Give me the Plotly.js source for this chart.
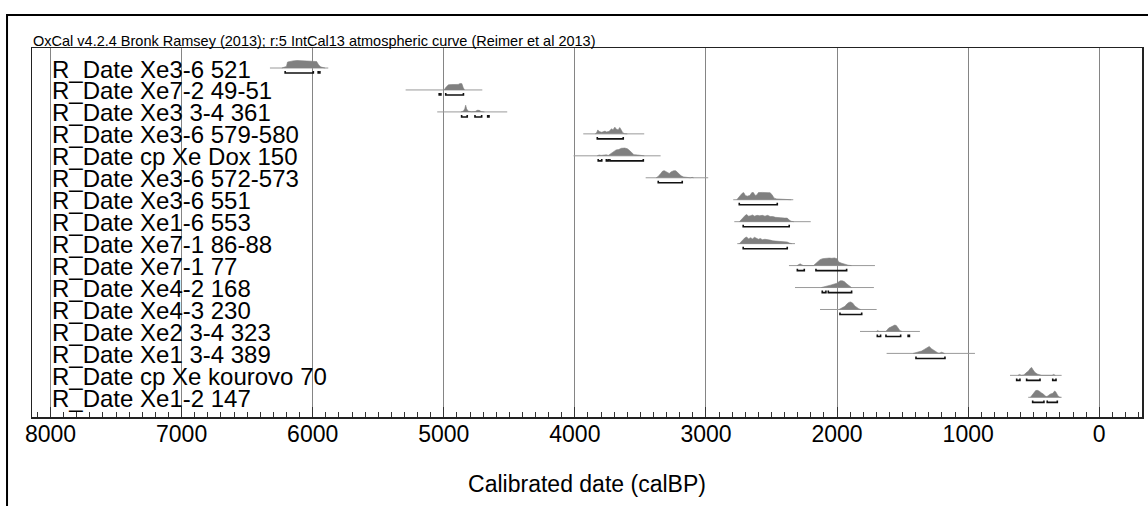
<!DOCTYPE html>
<html>
<head>
<meta charset="utf-8">
<script src="https://cdn.plot.ly/plotly-3.0.1.min.js"></script>
<style>
html,body{margin:0;padding:0;background:#fff;}
#chart{width:1148px;height:506px;}
</style>
</head>
<body>
<div id="chart"></div>
<script>
// ---------------- data ----------------
const headerText = "OxCal v4.2.4 Bronk Ramsey (2013); r:5 IntCal13 atmospheric curve (Reimer et al 2013)";
const axisTitle = "Calibrated date (calBP)";
const tickValues = [8000, 7000, 6000, 5000, 4000, 3000, 2000, 1000, 0];

const labels = [
  "R_Date Xe3-6 521",
  "R_Date Xe7-2 49-51",
  "R_Date Xe3 3-4 361",
  "R_Date Xe3-6 579-580",
  "R_Date cp Xe Dox 150",
  "R_Date Xe3-6 572-573",
  "R_Date Xe3-6 551",
  "R_Date Xe1-6 553",
  "R_Date Xe7-1 86-88",
  "R_Date Xe7-1 77",
  "R_Date Xe4-2 168",
  "R_Date Xe4-3 230",
  "R_Date Xe2 3-4 323",
  "R_Date Xe1 3-4 389",
  "R_Date cp Xe kourovo 70",
  "R_Date Xe1-2 147"
];

// extent of the thin likelihood line (calBP)
const lineFrom = [6326, 5291, 5050, 3936, 4010, 3460, 2792, 2784, 2761, 2367, 2321, 2130, 1825, 1622, 681, 542];
const lineTo   = [5881, 4706, 4516, 3471, 3346, 2983, 2334, 2201, 2321, 1711, 1719, 1698, 1368,  948, 287, 287];

// posterior densities: [calBP, relative density]
const densities = [
  [[6235,0],[6220,0.12],[6200,0.2],[6192,0.75],[6170,0.85],[6150,0.9],[6120,0.95],[6080,0.93],[6040,0.95],[6000,0.9],[5970,0.82],[5955,0.4],[5940,0.15],[5920,0.05],[5905,0]],
  [[5005,0],[4995,0.05],[4985,0.3],[4965,0.65],[4940,0.68],[4910,0.66],[4890,0.7],[4875,0.82],[4862,0.8],[4852,0.3],[4842,0]],
  [[4870,0],[4850,0.1],[4840,0.4],[4833,0.85],[4826,0.4],[4815,0.1],[4790,0.02],[4760,0.05],[4745,0.2],[4730,0.2],[4715,0.05],[4690,0]],
  [[3845,0],[3835,0.1],[3825,0.5],[3815,0.3],[3795,0.2],[3780,0.25],[3770,0.35],[3760,0.25],[3740,0.3],[3720,0.65],[3710,0.5],[3695,0.85],[3685,0.6],[3670,0.5],[3658,0.8],[3648,0.55],[3635,0.15],[3620,0.02],[3600,0]],
  [[3830,0],[3815,0.1],[3800,0.05],[3760,0.12],[3745,0.05],[3730,0.2],[3715,0.45],[3700,0.6],[3685,0.75],[3665,0.8],[3645,0.95],[3620,0.98],[3600,0.9],[3585,0.7],[3565,0.4],[3550,0.15],[3520,0.1],[3490,0.05],[3470,0]],
  [[3380,0],[3365,0.15],[3345,0.55],[3330,0.85],[3318,0.9],[3300,0.75],[3280,0.55],[3265,0.75],[3245,0.9],[3230,0.88],[3210,0.55],[3190,0.25],[3170,0.1],[3150,0.05],[3120,0],[3105,0.05],[3095,0]],
  [[2765,0],[2752,0.2],[2740,0.5],[2725,0.8],[2712,0.9],[2700,0.55],[2685,0.45],[2665,0.55],[2650,0.9],[2638,0.9],[2625,0.55],[2612,0.6],[2600,0.9],[2570,0.92],[2540,0.92],[2510,0.88],[2495,0.6],[2480,0.2],[2460,0.1],[2400,0.05],[2350,0]],
  [[2745,0],[2730,0.3],[2715,0.6],[2700,0.8],[2690,0.9],[2675,0.7],[2660,0.75],[2645,0.85],[2630,0.7],[2610,0.8],[2590,0.75],[2570,0.8],[2550,0.7],[2530,0.8],[2510,0.65],[2490,0.65],[2470,0.55],[2450,0.55],[2430,0.5],[2400,0.45],[2380,0.45],[2365,0.2],[2350,0.05],[2330,0]],
  [[2745,0],[2735,0.2],[2720,0.5],[2705,0.7],[2690,0.85],[2675,0.6],[2660,0.75],[2645,0.6],[2630,0.8],[2615,0.7],[2600,0.55],[2585,0.65],[2570,0.5],[2550,0.55],[2530,0.45],[2512,0.45],[2490,0.35],[2460,0.3],[2430,0.25],[2400,0.25],[2380,0.2],[2360,0.05],[2345,0]],
  [[2305,0],[2295,0.15],[2282,0.22],[2270,0.1],[2255,0],[2180,0],[2165,0.2],[2150,0.5],[2130,0.75],[2110,0.88],[2090,0.92],[2060,0.95],[2040,0.92],[2020,0.97],[2000,0.85],[1988,0.45],[1965,0.3],[1950,0.2],[1935,0.15],[1915,0.05],[1890,0]],
  [[2120,0],[2100,0.08],[2070,0.15],[2050,0.3],[2020,0.45],[2000,0.55],[1985,0.75],[1975,0.85],[1960,0.85],[1945,0.75],[1925,0.45],[1905,0.2],[1890,0]],
  [[1985,0],[1970,0.1],[1955,0.3],[1940,0.4],[1925,0.7],[1910,0.9],[1896,0.95],[1880,0.8],[1865,0.45],[1850,0.25],[1835,0.1],[1820,0]],
  [[1700,0],[1690,0.12],[1680,0],[1630,0],[1620,0.15],[1605,0.45],[1590,0.55],[1575,0.7],[1560,0.8],[1548,0.75],[1535,0.45],[1520,0.1],[1505,0]],
  [[1420,0],[1400,0.1],[1375,0.25],[1355,0.3],[1335,0.5],[1315,0.75],[1297,0.88],[1280,0.6],[1260,0.35],[1245,0.15],[1230,0.05],[1215,0.05],[1205,0.15],[1195,0.1],[1180,0]],
  [[620,0],[608,0.12],[595,0],[575,0.05],[560,0.3],[540,0.55],[525,0.9],[516,1.0],[505,0.7],[490,0.35],[470,0.15],[455,0.05],[440,0],[360,0],[348,0.12],[335,0]],
  [[525,0],[515,0.2],[500,0.6],[485,0.85],[473,0.88],[460,0.8],[440,0.55],[425,0.4],[412,0.15],[400,0.1],[390,0.2],[375,0.4],[355,0.5],[340,0.8],[330,0.65],[318,0.25],[305,0.05],[295,0]]
];

// 95.4% ranges: [from, to] calBP
const ranges = [
  [[6210,5995],[5958,5945]],
  [[5035,5022],[4985,4850]],
  [[4864,4821],[4762,4711],[4665,4655]],
  [[3829,3631]],
  [[3822,3795],[3760,3746],[3733,3478]],
  [[3364,3181]],
  [[2746,2456]],
  [[2716,2365]],
  [[2716,2380]],
  [[2303,2250],[2161,1927]],
  [[2113,2085],[2067,1889]],
  [[1978,1812]],
  [[1693,1668],[1627,1515],[1458,1448]],
  [[1398,1177]],
  [[630,605],[554,452],[355,330]],
  [[508,422],[397,320]]
];

// ---------------- styling constants ----------------
const FONT = "Arial, 'Liberation Sans', sans-serif";
const N = labels.length;
const PEAK = 0.36;      // height (row units) of density = 1
const RANGE_OFF = 0.23; // range bracket offset below baseline (row units)
const RANGE_TICK = 0.09;

const traces = [];
for (let i = 0; i < N; i++) {
  const y0 = N - 1 - i;
  // thin likelihood line
  traces.push({
    type: "scatter", mode: "lines",
    x: [lineFrom[i], lineTo[i]], y: [y0, y0],
    line: {color: "#9a9a9a", width: 1},
    hoverinfo: "skip", showlegend: false
  });
  // density polygon
  const d = densities[i];
  traces.push({
    type: "scatter", mode: "lines",
    x: d.map(p => p[0]), y: d.map(p => y0 + p[1] * PEAK),
    fill: "toself", fillcolor: "#808080",
    line: {color: "#808080", width: 0.6},
    hoverinfo: "skip", showlegend: false
  });
  // range brackets
  const rx = [], ry = [];
  const yb = y0 - RANGE_OFF;
  ranges[i].forEach(r => {
    rx.push(r[0], r[0], r[1], r[1], null);
    ry.push(yb + RANGE_TICK, yb, yb, yb + RANGE_TICK, null);
  });
  traces.push({
    type: "scatter", mode: "lines",
    x: rx, y: ry,
    line: {color: "#111111", width: 1.6},
    hoverinfo: "skip", showlegend: false
  });
}

const annotations = labels.map((t, i) => ({
  text: t, x: 8000, y: N - 1 - i, xref: "x", yref: "y",
  xanchor: "left", yanchor: "middle", yshift: -1, showarrow: false,
  font: {family: FONT, size: 24, color: "#000"}
}));
annotations.push({
  text: headerText, xref: "paper", yref: "paper", x: 0, y: 1,
  xanchor: "left", yanchor: "bottom", xshift: -1, yshift: -3, showarrow: false,
  font: {family: FONT, size: 14.5, color: "#000"}
});

const layout = {
  width: 1148, height: 506,
  margin: {l: 32, r: 6, t: 48, b: 89, pad: 0},
  paper_bgcolor: "#fff", plot_bgcolor: "#fff",
  showlegend: false,
  font: {family: FONT, color: "#000"},
  xaxis: {
    range: [8141, -326],
    tickvals: tickValues,
    ticktext: tickValues.map(String),
    ticks: "inside", ticklen: 10, tickwidth: 1, tickcolor: "#333",
    ticklabelstandoff: -4,
    showgrid: true, gridcolor: "#858585", gridwidth: 1,
    minor: {dtick: 100, tick0: 0, ticks: "inside", ticklen: 5, tickwidth: 1, tickcolor: "#333", showgrid: false},
    showline: true, linecolor: "#222", linewidth: 1.5, mirror: true,
    zeroline: false,
    tickfont: {family: FONT, size: 23, color: "#000"},
    title: {text: axisTitle, font: {family: FONT, size: 23, color: "#000"}, standoff: 30},
    automargin: false, fixedrange: true
  },
  yaxis: {
    range: [-0.897, 15.911],
    showgrid: false, zeroline: false, showticklabels: false, ticks: "",
    showline: true, linecolor: "#222", linewidth: 1.5, mirror: true,
    fixedrange: true
  },
  annotations: annotations,
  shapes: [
    {type: "rect", xref: "paper", yref: "paper", x0: -0.0225, x1: 1.08, y0: -0.4, y1: 1.0894,
     line: {color: "#000", width: 2}, fillcolor: "rgba(0,0,0,0)", layer: "above"}
  ]
};

Plotly.newPlot("chart", traces, layout, {staticPlot: true, displayModeBar: false});
</script>
</body>
</html>
